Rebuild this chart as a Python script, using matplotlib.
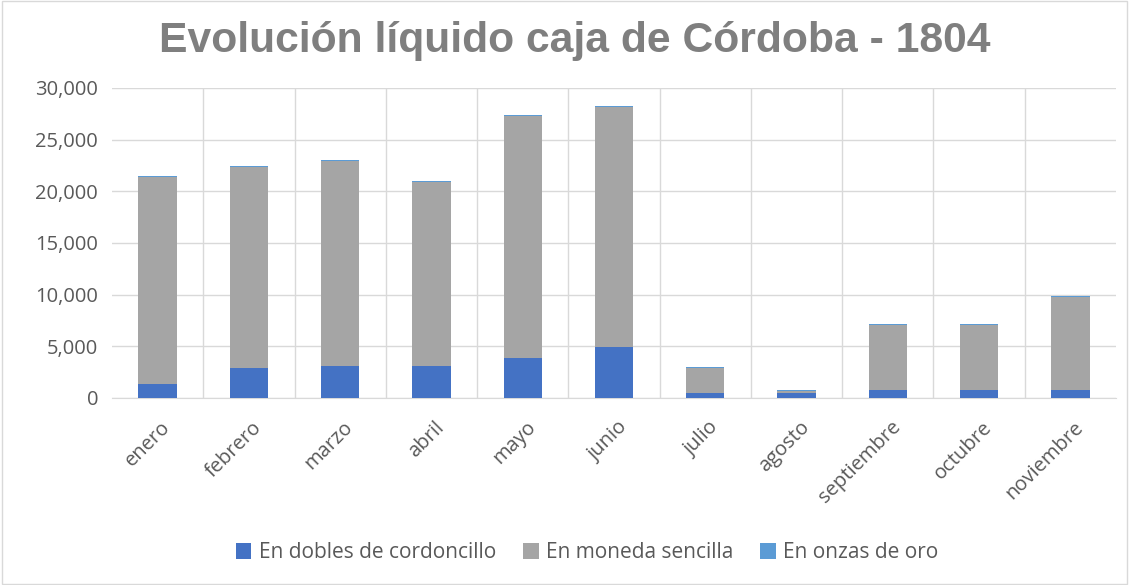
import matplotlib
matplotlib.use('Agg')
import matplotlib.pyplot as plt
import matplotlib.transforms as mtransforms
import numpy as np
from matplotlib.ticker import FuncFormatter, MultipleLocator

# datos
meses = ['enero', 'febrero', 'marzo', 'abril', 'mayo', 'junio',
         'julio', 'agosto', 'septiembre', 'octubre', 'noviembre']
dobles = [1340, 2880, 3090, 3130, 3900, 4920, 510, 450, 770, 770, 780]
total = [21500, 22450, 23030, 21000, 27400, 28260, 3020, 780, 7160, 7160, 9870]
onzas = [90, 90, 90, 80, 90, 90, 110, 60, 80, 80, 80]
sencilla = [t - d - o for t, d, o in zip(total, dobles, onzas)]

series = ['En dobles de cordoncillo', 'En moneda sencilla', 'En onzas de oro']
colores = ['#4472C4', '#A5A5A5', '#5B9BD5']

plt.rcParams['font.family'] = ['Open Sans', 'DejaVu Sans']

fig = plt.figure(figsize=(11.29, 5.85), dpi=100)
ax = fig.add_axes([0.0992, 0.3197, 0.8893, 0.5299])

x = np.arange(len(meses))
w = 0.42
ax.bar(x, dobles, w, color=colores[0], label=series[0], zorder=3)
ax.bar(x, sencilla, w, bottom=dobles, color=colores[1], label=series[1], zorder=3)
base = [d + s for d, s in zip(dobles, sencilla)]
ax.bar(x, onzas, w, bottom=base, color=colores[2], label=series[2], zorder=3)

ax.set_xlim(-0.5, len(meses) - 0.5)
ax.set_ylim(0, 30000)
ax.yaxis.set_major_locator(MultipleLocator(5000))
ax.yaxis.set_major_formatter(FuncFormatter(lambda v, p: f'{int(v):,}'))
ax.grid(axis='y', color='#d9d9d9', linewidth=1, zorder=0)
# lineas verticales entre categorias
for b in np.arange(0.5, len(meses) - 0.5, 1):
    ax.axvline(b, color='#d9d9d9', linewidth=1, zorder=0)

for s in ['top', 'right', 'left']:
    ax.spines[s].set_visible(False)
ax.spines['bottom'].set_color('#d9d9d9')

ax.set_xticks(x)
ax.set_xticklabels(meses, rotation=45, ha='right', rotation_mode='anchor')
ax.tick_params(axis='x', length=0, pad=14, labelsize=14.5, labelcolor='#595959')
ax.tick_params(axis='y', length=0, pad=10, labelsize=14.5, labelcolor='#595959')
offset = mtransforms.ScaledTranslation(3 / 100, 0, fig.dpi_scale_trans)
for lbl in ax.get_xticklabels():
    lbl.set_transform(lbl.get_transform() + offset)

fig.text(0.509, 0.93, 'Evolución líquido caja de Córdoba - 1804', ha='center', va='center',
         fontsize=30.7, fontweight='bold', color='#7f7f7f', family='Liberation Sans')

fig.legend(loc='center', bbox_to_anchor=(0.52, 0.055), ncol=3, frameon=False,
           fontsize=15, handlelength=0.75, handleheight=0.75, handletextpad=0.35,
           columnspacing=1.3, labelcolor='#595959')

fig.patches.append(plt.Rectangle((0.002, 0.002), 0.996, 0.996, transform=fig.transFigure,
                                 fill=False, edgecolor='#d9d9d9', linewidth=1))

fig.savefig('out.png', dpi=100)
